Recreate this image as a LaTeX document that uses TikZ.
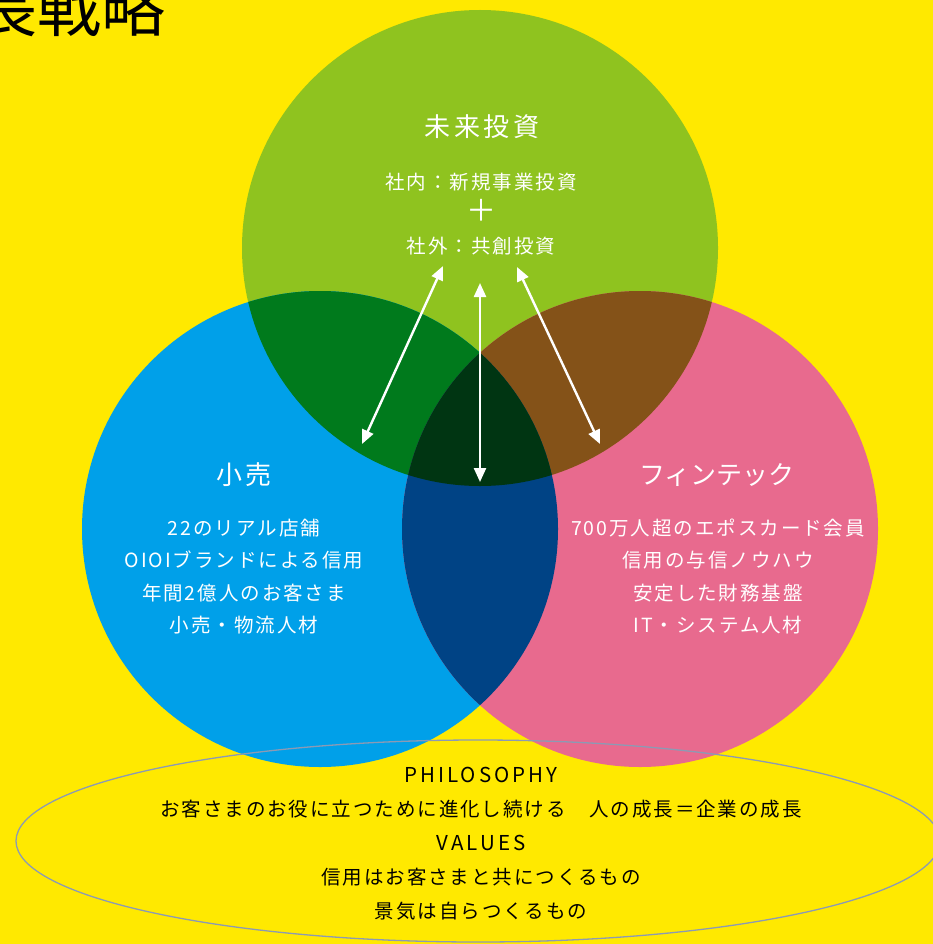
\documentclass[tikz,border=0pt]{standalone}
\usepackage{fontspec}
\setmainfont{Noto Sans CJK JP}
\usetikzlibrary{arrows.meta}
\definecolor{bg}{HTML}{FFE900}
\definecolor{cgreen}{HTML}{8FC31F}
\definecolor{cblue}{HTML}{00A0E9}
\definecolor{cpink}{HTML}{E86A8E}
\definecolor{cgb}{HTML}{007A1C}
\definecolor{cgp}{HTML}{845218}
\definecolor{cbp}{HTML}{004385}
\definecolor{call}{HTML}{003512}
\definecolor{eline}{HTML}{8C9AB4}
\tikzset{
  wtxt/.style={text=white, inner sep=0pt, align=center},
  btxt/.style={text=black, inner sep=0pt, align=center},
  arr/.style={white, line width=2.4pt, {Triangle[length=14pt,width=12pt]}-{Triangle[length=14pt,width=12pt]}},
  head/.style={font=\fontsize{26}{30}\selectfont},
  body/.style={font=\fontsize{19.5}{32.3}\selectfont\addfontfeature{LetterSpace=10}},
}
\begin{document}
\begin{tikzpicture}[x=1pt,y=-1pt]
\fill[bg] (0,0) rectangle (933,944);
\useasboundingbox (0,0) rectangle (933,944);
\coordinate (G) at (480,248);
\coordinate (B) at (320,529);
\coordinate (P) at (640,529);
\fill[cgreen] (G) circle[radius=238];
\fill[cblue] (B) circle[radius=238];
\fill[cpink] (P) circle[radius=238];
\begin{scope}
  \clip (G) circle[radius=238];
  \fill[cgb] (B) circle[radius=238];
  \fill[cgp] (P) circle[radius=238];
\end{scope}
\begin{scope}
  \clip (B) circle[radius=238];
  \fill[cbp] (P) circle[radius=238];
  \clip (G) circle[radius=238];
  \fill[call] (P) circle[radius=238];
\end{scope}
% title (cut off at the page edge, as in the reference)
\node[btxt, anchor=base east, font=\fontsize{64}{70}\selectfont] (title) at (166,32) {成長戦略};
% future investment
\node[wtxt, font=\fontsize{26}{30}\selectfont\addfontfeature{LetterSpace=14}] (mirai) at (482,127) {未来投資};
\node[wtxt, body] (inv) at (481,214) {社内：新規事業投資\\{\fontsize{30}{32.3}\selectfont ＋}\\社外：共創投資};
% retail
\node[wtxt, font=\fontsize{26}{30}\selectfont\addfontfeature{LetterSpace=8}] (kouri) at (244,475) {小売};
\node[wtxt, body] (kourib) at (244,576.5) {22のリアル店舗\\OIOIブランドによる信用\\年間2億人のお客さま\\小売・物流人材};
% fintech
\node[wtxt, head] (fin) at (717,475) {フィンテック};
\node[wtxt, body] (finb) at (718,576.5) {700万人超のエポスカード会員\\信用の与信ノウハウ\\安定した財務基盤\\IT・システム人材};
% arrows
\coordinate (a1s) at (443,266);
\coordinate (a1e) at (362,444);
\coordinate (a2s) at (480,283);
\coordinate (a2e) at (480,482);
\coordinate (a3s) at (517,267);
\coordinate (a3e) at (600,444);
\draw[arr] (a1s) -- (a1e);
\draw[arr] (a2s) -- (a2e);
\draw[arr] (a3s) -- (a3e);
% ellipse
\coordinate (E) at (478,841);
\draw[eline, line width=1.3pt] (E) ellipse[x radius=462, y radius=101];
\node[btxt, font=\fontsize{19.5}{34}\selectfont\addfontfeature{LetterSpace=10}] (phil) at (481,844) {{\fontsize{20.5}{34}\selectfont\addfontfeature{LetterSpace=15}PHILOSOPHY}\\お客さまのお役に立つために進化し続ける　人の成長＝企業の成長\\{\fontsize{20.5}{34}\selectfont\addfontfeature{LetterSpace=15}VALUES}\\信用はお客さまと共につくるもの\\景気は自らつくるもの};
\end{tikzpicture}
\end{document}
